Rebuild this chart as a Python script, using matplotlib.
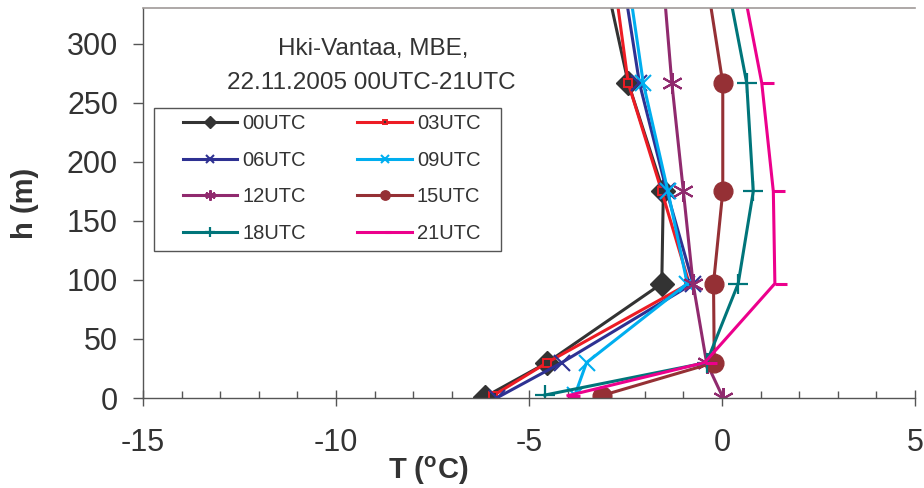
import matplotlib
matplotlib.use("Agg")
import matplotlib.pyplot as plt
from matplotlib.path import Path
from matplotlib.patches import Rectangle
from matplotlib.ticker import MultipleLocator

plt.rcParams['font.family'] = ['Liberation Sans', 'DejaVu Sans']
plt.rcParams['axes.unicode_minus'] = False
plt.rcParams['mathtext.default'] = 'regular'

# ---- data ----
series_names = ["00UTC", "03UTC", "06UTC", "09UTC", "12UTC", "15UTC", "18UTC", "21UTC"]
heights = [2, 30, 97, 175, 267, 420]
bottom_heights = [1, 2, 0, 2.5, 0, 2, 2.5, 2]
t_00 = [-6.14, -4.53, -1.56, -1.52, -2.43, -3.45]
t_03 = [-5.93, -4.53, -0.85, -1.56, -2.43, -3.06]
t_06 = [-5.84, -4.15, -0.75, -1.43, -2.14, -2.87]
t_09 = [-3.81, -3.51, -0.90, -1.40, -2.04, -2.72]
t_12 = [0.03, -0.40, -0.75, -1.00, -1.30, -1.69]
t_15 = [-3.12, -0.20, -0.22, 0.02, 0.02, -0.71]
t_18 = [-4.59, -0.40, 0.42, 0.81, 0.64, -0.26]
t_21 = [-3.99, -0.45, 1.37, 1.33, 1.03, 0.13]
temps = [t_00, t_03, t_06, t_09, t_12, t_15, t_18, t_21]

x_ticks = [-15, -10, -5, 0, 5]
y_ticks = [0, 50, 100, 150, 200, 250, 300]
title_lines = ["Hki-Vantaa, MBE,", "22.11.2005 00UTC-21UTC"]

# ---- styles ----
TXT = '#333333'
dash_marker = Path([(0, 0), (1, 0)], [Path.MOVETO, Path.LINETO])
styles = [
    dict(color='#333333', marker='D', ms=12, mfc='#333333', mec='#333333', mew=1),
    dict(color='#ed1c24', marker='s', ms=5.5, mfc='#333333', mec='#ed1c24', mew=1.4),
    dict(color='#2e3192', marker='x', ms=12, mew=1.5),
    dict(color='#00aeef', marker='x', ms=12, mew=1.5),
    dict(color='#902a6e', marker=(6, 2, 0), ms=15, mew=1.5),
    dict(color='#953035', marker='o', ms=13.5, mfc='#953035', mec='#953035'),
    dict(color='#00757a', marker='+', ms=15, mew=1.6),
    dict(color='#ec008c', marker=dash_marker, ms=17, mew=2.2),
]

W, H = 924, 488
fig = plt.figure(figsize=(W / 100, H / 100), dpi=100)
L, R, B, T = 143, 915, 398, 8
ax = fig.add_axes([L / W, 1 - B / H, (R - L) / W, (B - T) / H])

handles = []
for name, tv, hb, st in zip(series_names, temps, bottom_heights, styles):
    hs = [hb] + heights[1:]
    ln, = ax.plot(tv, hs, lw=2.2, label=name, **st)
    handles.append(ln)

ax.set_xlim(-15, 5)
ax.set_ylim(0, 330.5)
ax.set_xticks(x_ticks)
ax.set_yticks(y_ticks)
ax.xaxis.set_minor_locator(MultipleLocator(1))

ax.spines['right'].set_visible(False)
ax.spines['top'].set_color('#a09a98')
ax.spines['top'].set_linewidth(1.2)
for s in ['left', 'bottom']:
    ax.spines[s].set_color('#555555')
    ax.spines[s].set_linewidth(1.0)

ax.tick_params(axis='x', which='major', direction='inout', length=11, width=1,
               color='#555555', labelsize=22, labelcolor=TXT, pad=16)
ax.tick_params(axis='x', which='minor', direction='in', length=5, width=1, color='#555555')
ax.tick_params(axis='y', which='major', direction='out', length=7, width=1,
               color='#555555', labelsize=22, labelcolor=TXT, pad=11)

ax.set_xlabel(r'T ($^{o}$C)', fontsize=21, fontweight='bold', color=TXT)
ax.xaxis.set_label_coords((428 - L) / (R - L), -(471 - B) / (B - T), transform=ax.transAxes)
ax.xaxis.label.set_va('center')
ax.set_ylabel('h (m)', fontsize=21, fontweight='bold', color=TXT)
ax.yaxis.set_label_coords(-(L - 25) / (R - L), 0.5)
ax.yaxis.label.set_va('center')


def fx(px):
    return px / W


def fy(py):
    return 1 - py / H


fig.text(fx(373), fy(55), title_lines[0], ha='center', va='baseline', fontsize=17.5, color=TXT)
fig.text(fx(371), fy(89), title_lines[1], ha='center', va='baseline', fontsize=17.5, color=TXT)

# legend frame
frame = Rectangle((fx(154), fy(251)), (501 - 154) / W, (251 - 108) / H,
                  transform=fig.transFigure, facecolor='white',
                  edgecolor='#555555', lw=1.0, zorder=4, clip_on=False)
ax.add_patch(frame)
order = [0, 2, 4, 6, 1, 3, 5, 7]
leg = ax.legend([handles[i] for i in order], [series_names[i] for i in order],
                ncol=2, loc='upper left', bbox_to_anchor=(fx(183), fy(114)),
                bbox_transform=fig.transFigure, frameon=False, fontsize=14.5,
                markerscale=0.5, handlelength=2.7, handletextpad=0.25,
                columnspacing=2.55, labelspacing=0.88, borderpad=0, borderaxespad=0)
for t in leg.get_texts():
    t.set_color(TXT)
leg.set_zorder(5)

fig.savefig('out.png', dpi=100)
